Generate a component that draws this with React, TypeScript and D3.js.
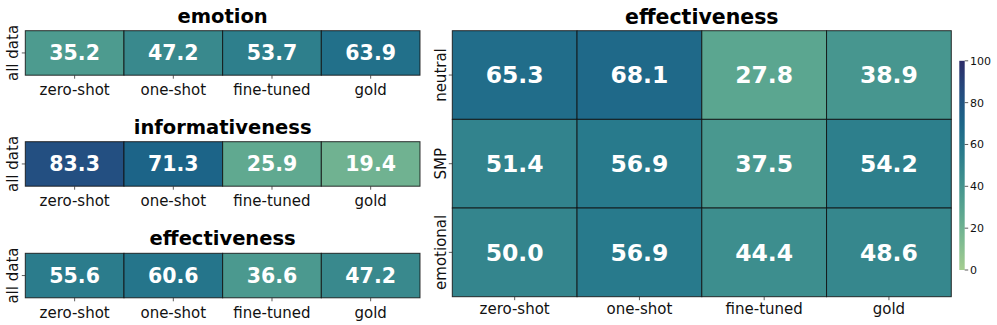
import { useEffect, useRef } from "react";
import * as d3 from "d3";

const models = ["zero-shot", "one-shot", "fine-tuned", "gold"];
const emotionScores = [35.2, 47.2, 53.7, 63.9];
const informativenessScores = [83.3, 71.3, 25.9, 19.4];
const effectivenessScores = [55.6, 60.6, 36.6, 47.2];

const styleRows = ["neutral", "SMP", "emotional"];
const neutralScores = [65.3, 68.1, 27.8, 38.9];
const smpScores = [51.4, 56.9, 37.5, 54.2];
const emotionalScores = [50.0, 56.9, 44.4, 48.6];

const colorbarTicks = [0, 20, 40, 60, 80, 100];

// approximation of seaborn "crest"
const crestColors = ["#a5cd90", "#7dba91", "#59a590", "#40908e", "#287a8c", "#1c6488", "#254b7f", "#2c2c68"];

const App = () => {
  const ref = useRef<SVGSVGElement>(null);

  useEffect(() => {
    const svg = d3.select(ref.current);
    svg.selectAll("*").remove();

    const font = "DejaVu Sans";
    const color = d3
      .scaleLinear<string>()
      .domain(crestColors.map((c, i) => (100 * i) / (crestColors.length - 1)))
      .range(crestColors)
      .clamp(true);
    const fmt = d3.format(".1f");

    // LEFT: three one-row heatmaps
    const leftX = d3.scaleBand().domain(models).range([25.3, 420]);
    const panels = [
      { title: "emotion", values: emotionScores, top: 30.7 },
      { title: "informativeness", values: informativenessScores, top: 141.7 },
      { title: "effectiveness", values: effectivenessScores, top: 253.3 },
    ];
    const rowH = 44.5;

    panels.forEach((p) => {
      const g = svg.append("g");
      const data = models.map((m, i) => ({ m, v: p.values[i] }));

      g.selectAll("rect.cell")
        .data(data)
        .enter()
        .append("rect")
        .attr("class", "cell")
        .attr("x", (d) => leftX(d.m)!)
        .attr("y", p.top)
        .attr("width", leftX.bandwidth())
        .attr("height", rowH)
        .attr("fill", (d) => color(d.v))
        .attr("stroke", "#111")
        .attr("stroke-opacity", 0.85)
        .attr("stroke-width", 1);

      g.selectAll("text.val")
        .data(data)
        .enter()
        .append("text")
        .attr("x", (d) => leftX(d.m)! + leftX.bandwidth() / 2)
        .attr("y", p.top + rowH / 2)
        .attr("dy", "0.36em")
        .attr("text-anchor", "middle")
        .style("font-family", font)
        .style("font-weight", "bold")
        .style("font-size", "20.5px")
        .style("fill", "white")
        .text((d) => fmt(d.v));

      // x ticks
      g.selectAll("line.xt")
        .data(models)
        .enter()
        .append("line")
        .attr("x1", (d) => leftX(d)! + leftX.bandwidth() / 2)
        .attr("x2", (d) => leftX(d)! + leftX.bandwidth() / 2)
        .attr("y1", p.top + rowH)
        .attr("y2", p.top + rowH + 3.5)
        .attr("stroke", "#333")
        .attr("stroke-width", 0.8);

      g.selectAll("text.xl")
        .data(models)
        .enter()
        .append("text")
        .attr("x", (d) => leftX(d)! + leftX.bandwidth() / 2)
        .attr("y", p.top + rowH + 20)
        .attr("text-anchor", "middle")
        .style("font-family", font)
        .style("font-size", "15px")
        .style("fill", "#111")
        .text((d) => d);

      // y tick + label
      g.append("line")
        .attr("x1", 25.3)
        .attr("x2", 21.8)
        .attr("y1", p.top + rowH / 2)
        .attr("y2", p.top + rowH / 2)
        .attr("stroke", "#333")
        .attr("stroke-width", 0.8);
      g.append("text")
        .attr("transform", `translate(17.5, ${p.top + rowH / 2}) rotate(-90)`)
        .attr("text-anchor", "middle")
        .style("font-family", font)
        .style("font-size", "15px")
        .style("fill", "#111")
        .text("all data");

      g.append("text")
        .attr("x", (25.3 + 420) / 2)
        .attr("y", p.top - 8)
        .attr("text-anchor", "middle")
        .style("font-family", font)
        .style("font-weight", "bold")
        .style("font-size", "19.5px")
        .style("fill", "#000")
        .text(p.title);
    });

    // RIGHT: 3x4 heatmap
    const rx = d3.scaleBand().domain(models).range([452.3, 951.3]);
    const ry = d3.scaleBand().domain(styleRows).range([30.7, 296.7]);
    const rowValues = [neutralScores, smpScores, emotionalScores];
    const cells = styleRows.flatMap((r, ri) =>
      models.map((m, mi) => ({ r, m, v: rowValues[ri][mi] }))
    );
    const right = svg.append("g");

    right
      .selectAll("rect")
      .data(cells)
      .enter()
      .append("rect")
      .attr("x", (d) => rx(d.m)!)
      .attr("y", (d) => ry(d.r)!)
      .attr("width", rx.bandwidth())
      .attr("height", ry.bandwidth())
      .attr("fill", (d) => color(d.v))
      .attr("stroke", "#111")
      .attr("stroke-opacity", 0.85)
      .attr("stroke-width", 1);

    right
      .selectAll("text.val")
      .data(cells)
      .enter()
      .append("text")
      .attr("x", (d) => rx(d.m)! + rx.bandwidth() / 2)
      .attr("y", (d) => ry(d.r)! + ry.bandwidth() / 2)
      .attr("dy", "0.36em")
      .attr("text-anchor", "middle")
      .style("font-family", font)
      .style("font-weight", "bold")
      .style("font-size", "23.5px")
      .style("fill", "white")
      .text((d) => fmt(d.v));

    right
      .selectAll("line.xt")
      .data(models)
      .enter()
      .append("line")
      .attr("x1", (d) => rx(d)! + rx.bandwidth() / 2)
      .attr("x2", (d) => rx(d)! + rx.bandwidth() / 2)
      .attr("y1", 296.7)
      .attr("y2", 300.2)
      .attr("stroke", "#333")
      .attr("stroke-width", 0.8);

    right
      .selectAll("text.xl")
      .data(models)
      .enter()
      .append("text")
      .attr("x", (d) => rx(d)! + rx.bandwidth() / 2)
      .attr("y", 314)
      .attr("text-anchor", "middle")
      .style("font-family", font)
      .style("font-size", "15px")
      .style("fill", "#111")
      .text((d) => d);

    right
      .selectAll("line.yt")
      .data(styleRows)
      .enter()
      .append("line")
      .attr("x1", 452.3)
      .attr("x2", 448.8)
      .attr("y1", (d) => ry(d)! + ry.bandwidth() / 2)
      .attr("y2", (d) => ry(d)! + ry.bandwidth() / 2)
      .attr("stroke", "#333")
      .attr("stroke-width", 0.8);

    right
      .selectAll("text.yl")
      .data(styleRows)
      .enter()
      .append("text")
      .attr("transform", (d) => `translate(445.5, ${ry(d)! + ry.bandwidth() / 2}) rotate(-90)`)
      .attr("text-anchor", "middle")
      .style("font-family", font)
      .style("font-size", "15px")
      .style("fill", "#111")
      .text((d) => d);

    right
      .append("text")
      .attr("x", (452.3 + 951.3) / 2)
      .attr("y", 24)
      .attr("text-anchor", "middle")
      .style("font-family", font)
      .style("font-weight", "bold")
      .style("font-size", "20.5px")
      .style("fill", "#000")
      .text("effectiveness");

    // colorbar
    const cbY = d3.scaleLinear().domain([0, 100]).range([270, 60.8]);
    const defs = svg.append("defs");
    const grad = defs
      .append("linearGradient")
      .attr("id", "crest")
      .attr("x1", 0)
      .attr("y1", 1)
      .attr("x2", 0)
      .attr("y2", 0);
    grad
      .selectAll("stop")
      .data(d3.range(0, 101, 5))
      .enter()
      .append("stop")
      .attr("offset", (d) => `${d}%`)
      .attr("stop-color", (d) => color(d));

    svg
      .append("rect")
      .attr("x", 959.3)
      .attr("y", cbY(100))
      .attr("width", 5.4)
      .attr("height", cbY(0) - cbY(100))
      .attr("fill", "url(#crest)");

    const cb = svg.append("g");
    cb.selectAll("line")
      .data(colorbarTicks)
      .enter()
      .append("line")
      .attr("x1", 964.7)
      .attr("x2", 968.2)
      .attr("y1", (d) => cbY(d))
      .attr("y2", (d) => cbY(d))
      .attr("stroke", "#333")
      .attr("stroke-width", 0.8);
    cb.selectAll("text")
      .data(colorbarTicks)
      .enter()
      .append("text")
      .attr("x", 970)
      .attr("y", (d) => cbY(d))
      .attr("dy", "0.36em")
      .style("font-family", font)
      .style("font-size", "11px")
      .style("fill", "#111")
      .text((d) => d);
  }, []);

  return (
    <svg
      ref={ref}
      width={997}
      height={325}
      style={{ position: "absolute", left: 0, top: 0, background: "white" }}
    />
  );
};

export default App;
